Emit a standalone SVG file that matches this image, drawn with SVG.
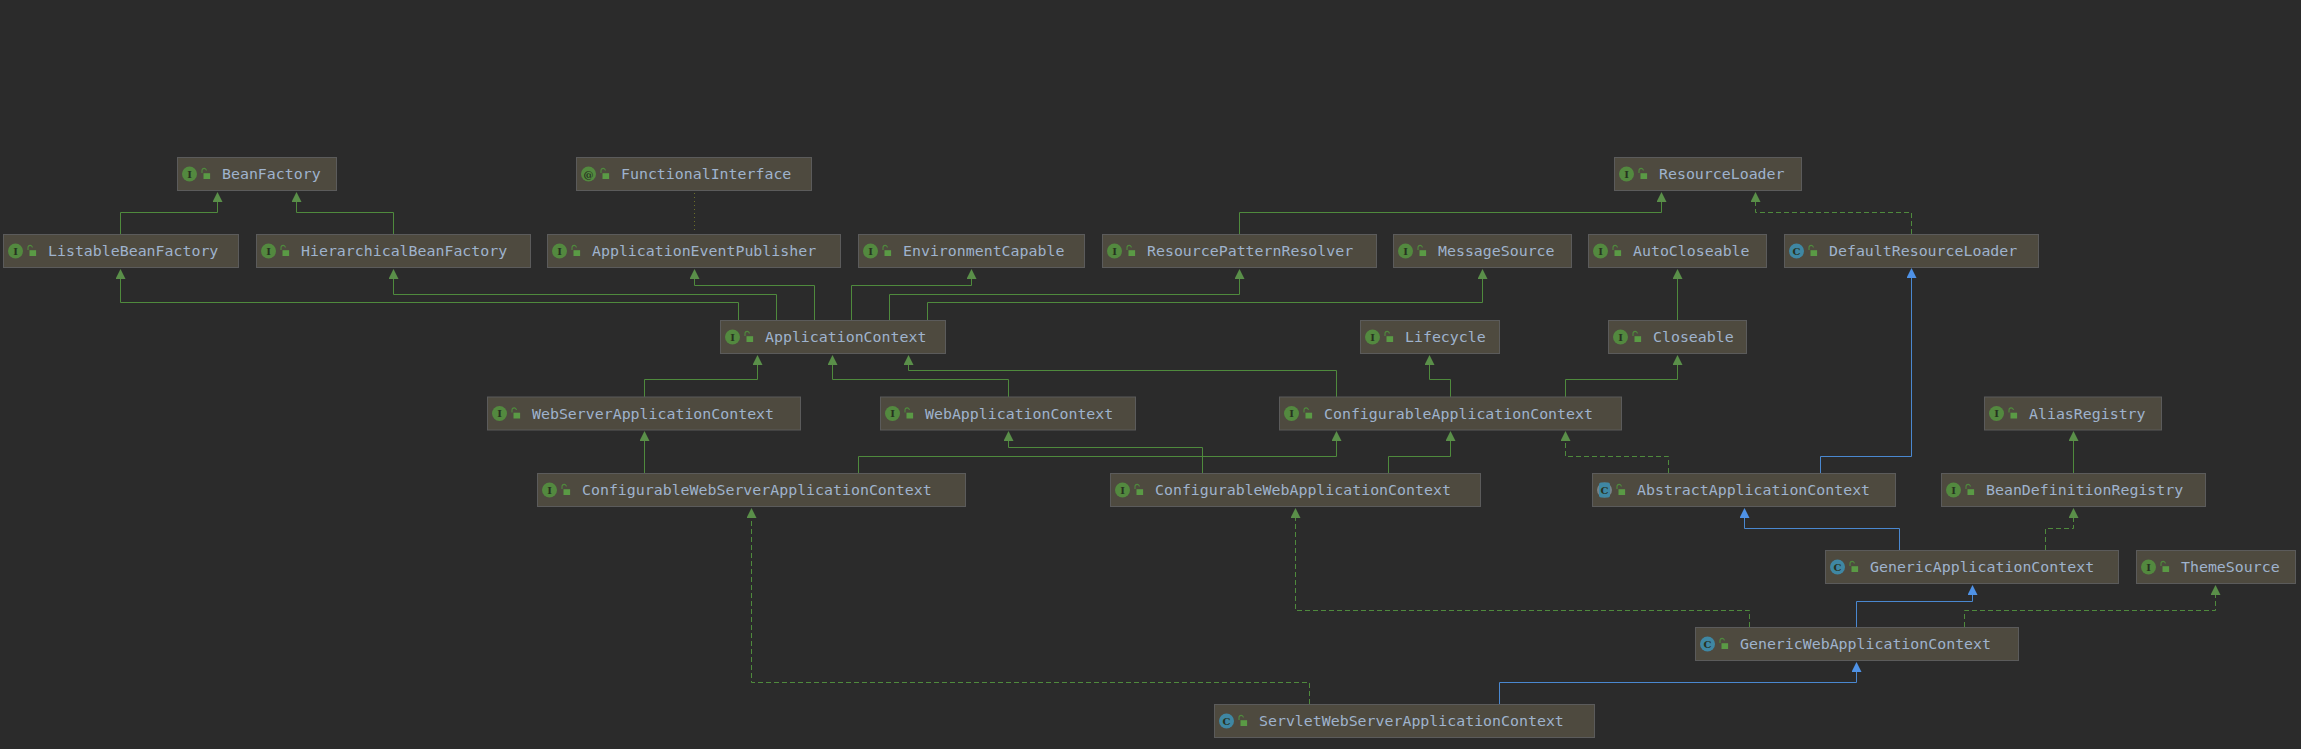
<svg xmlns="http://www.w3.org/2000/svg" width="2301" height="749" viewBox="0 0 2301 749">
<style>
.n{fill:#4e4a3f;stroke:#5b5b5b;stroke-width:1}
.t{font-family:"DejaVu Sans Mono","Liberation Mono",monospace;font-size:14.9px;fill:#9fb3cd}
.g{font-family:"DejaVu Serif","Liberation Serif",serif;font-size:10px;font-weight:bold;fill:#27321f;text-anchor:middle}
.e{fill:none;stroke:#4f8a3d;stroke-width:1}
.b{stroke:#4a88d0}
.d{stroke-dasharray:5 3}
.o{fill:none;stroke:#6b6f2a;stroke-width:1;stroke-dasharray:1 3}
</style>
<defs>
<marker id="ag" markerUnits="userSpaceOnUse" markerWidth="11" markerHeight="11" refX="0" refY="5" orient="auto"><path d="M0 0L10 5L0 10Z" fill="#5a8f49"/></marker>
<marker id="ab" markerUnits="userSpaceOnUse" markerWidth="11" markerHeight="11" refX="0" refY="5" orient="auto"><path d="M0 0L10 5L0 10Z" fill="#4f92e6"/></marker>
<g id="lock"><path d="M-3.5 -1V-3.4a2.2 2.2 0 0 1 4.4 0" fill="none" stroke="#4f8a3d" stroke-width="1.1"/><rect x="-2" y="-0.8" width="6.6" height="5.8" fill="#5a9a45"/></g>
<circle id="ci" r="7.5" fill="#53893f"/>
<circle id="cc" r="7.5" fill="#3f87a3"/>
<g id="ca"><circle r="7.5" fill="#77848a"/><rect x="-5.5" y="-7.5" width="11" height="15" rx="2" fill="#3f87a3"/></g>
</defs>
<rect width="2301" height="749" fill="#2b2b2b"/>
<g id="connectors">
<path class="e" marker-end="url(#ag)" d="M120.5 234V212.5H217.5V202"/>
<path class="e" marker-end="url(#ag)" d="M393.5 234V212.5H296.5V202"/>
<path class="o" d="M694.5 193V233"/>
<path class="e" marker-end="url(#ag)" d="M738.5 320V302.5H120.5V279"/>
<path class="e" marker-end="url(#ag)" d="M776.5 320V294.5H393.5V279"/>
<path class="e" marker-end="url(#ag)" d="M814.5 320V285.5H694.5V279"/>
<path class="e" marker-end="url(#ag)" d="M851.5 320V285.5H971.5V279"/>
<path class="e" marker-end="url(#ag)" d="M889.5 320V294.5H1239.5V279"/>
<path class="e" marker-end="url(#ag)" d="M927.5 320V302.5H1482.5V279"/>
<path class="e" marker-end="url(#ag)" d="M1239.5 234V212.5H1661.5V202"/>
<path class="e d" marker-end="url(#ag)" d="M1911.5 234V212.5H1755.5V202"/>
<path class="e" marker-end="url(#ag)" d="M1677.5 320V279"/>
<path class="e" marker-end="url(#ag)" d="M644.5 397V379.5H757.5V365"/>
<path class="e" marker-end="url(#ag)" d="M1008.5 397V379.5H832.5V365"/>
<path class="e" marker-end="url(#ag)" d="M1336.5 397V370.5H908.5V365"/>
<path class="e" marker-end="url(#ag)" d="M1450.5 397V379.5H1429.5V365"/>
<path class="e" marker-end="url(#ag)" d="M1565.5 397V379.5H1677.5V365"/>
<path class="e" marker-end="url(#ag)" d="M644.5 473V441"/>
<path class="e" marker-end="url(#ag)" d="M858.5 473V456.5H1336.5V441"/>
<path class="e" marker-end="url(#ag)" d="M1202.5 473V447.5H1008.5V441"/>
<path class="e" marker-end="url(#ag)" d="M1388.5 473V456.5H1450.5V441"/>
<path class="e d" marker-end="url(#ag)" d="M1668.5 473V456.5H1565.5V441"/>
<path class="e b" marker-end="url(#ab)" d="M1820.5 473V456.5H1911.5V278"/>
<path class="e" marker-end="url(#ag)" d="M2073.5 473V441"/>
<path class="e b" marker-end="url(#ab)" d="M1899.5 550V528.5H1744.5V518"/>
<path class="e d" marker-end="url(#ag)" d="M2045.5 550V528.5H2073.5V518"/>
<path class="e b" marker-end="url(#ab)" d="M1856.5 627V601.5H1972.5V595"/>
<path class="e d" marker-end="url(#ag)" d="M1964.5 627V610.5H2215.5V595"/>
<path class="e d" marker-end="url(#ag)" d="M1749.5 627V610.5H1295.5V518"/>
<path class="e d" marker-end="url(#ag)" d="M1309.5 704V682.5H751.5V518"/>
<path class="e b" marker-end="url(#ab)" d="M1499.5 704V682.5H1856.5V672"/>
</g>
<g id="BeanFactory" transform="translate(177.5 157.5)"><rect class="n" width="159" height="33"/><use href="#ci" x="12" y="16.5"/><text class="g" x="12" y="20">I</text><use href="#lock" x="28" y="16.5"/><text class="t" x="44.5" y="21.5">BeanFactory</text></g>
<g id="ListableBeanFactory" transform="translate(3.5 234.5)"><rect class="n" width="235" height="33"/><use href="#ci" x="12" y="16.5"/><text class="g" x="12" y="20">I</text><use href="#lock" x="28" y="16.5"/><text class="t" x="44.5" y="21.5">ListableBeanFactory</text></g>
<g id="HierarchicalBeanFactory" transform="translate(256.5 234.5)"><rect class="n" width="274" height="33"/><use href="#ci" x="12" y="16.5"/><text class="g" x="12" y="20">I</text><use href="#lock" x="28" y="16.5"/><text class="t" x="44.5" y="21.5">HierarchicalBeanFactory</text></g>
<g id="FunctionalInterface" transform="translate(576.5 157.5)"><rect class="n" width="235" height="33"/><use href="#ci" x="12" y="16.5"/><text class="g" x="12" y="20">@</text><use href="#lock" x="28" y="16.5"/><text class="t" x="44.5" y="21.5">FunctionalInterface</text></g>
<g id="ApplicationEventPublisher" transform="translate(547.5 234.5)"><rect class="n" width="293" height="33"/><use href="#ci" x="12" y="16.5"/><text class="g" x="12" y="20">I</text><use href="#lock" x="28" y="16.5"/><text class="t" x="44.5" y="21.5">ApplicationEventPublisher</text></g>
<g id="EnvironmentCapable" transform="translate(858.5 234.5)"><rect class="n" width="226" height="33"/><use href="#ci" x="12" y="16.5"/><text class="g" x="12" y="20">I</text><use href="#lock" x="28" y="16.5"/><text class="t" x="44.5" y="21.5">EnvironmentCapable</text></g>
<g id="ResourcePatternResolver" transform="translate(1102.5 234.5)"><rect class="n" width="274" height="33"/><use href="#ci" x="12" y="16.5"/><text class="g" x="12" y="20">I</text><use href="#lock" x="28" y="16.5"/><text class="t" x="44.5" y="21.5">ResourcePatternResolver</text></g>
<g id="MessageSource" transform="translate(1393.5 234.5)"><rect class="n" width="178" height="33"/><use href="#ci" x="12" y="16.5"/><text class="g" x="12" y="20">I</text><use href="#lock" x="28" y="16.5"/><text class="t" x="44.5" y="21.5">MessageSource</text></g>
<g id="AutoCloseable" transform="translate(1588.5 234.5)"><rect class="n" width="178" height="33"/><use href="#ci" x="12" y="16.5"/><text class="g" x="12" y="20">I</text><use href="#lock" x="28" y="16.5"/><text class="t" x="44.5" y="21.5">AutoCloseable</text></g>
<g id="ResourceLoader" transform="translate(1614.5 157.5)"><rect class="n" width="187" height="33"/><use href="#ci" x="12" y="16.5"/><text class="g" x="12" y="20">I</text><use href="#lock" x="28" y="16.5"/><text class="t" x="44.5" y="21.5">ResourceLoader</text></g>
<g id="DefaultResourceLoader" transform="translate(1784.5 234.5)"><rect class="n" width="254" height="33"/><use href="#cc" x="12" y="16.5"/><text class="g" x="12" y="20">C</text><use href="#lock" x="28" y="16.5"/><text class="t" x="44.5" y="21.5">DefaultResourceLoader</text></g>
<g id="ApplicationContext" transform="translate(720.5 320.5)"><rect class="n" width="225" height="33"/><use href="#ci" x="12" y="16.5"/><text class="g" x="12" y="20">I</text><use href="#lock" x="28" y="16.5"/><text class="t" x="44.5" y="21.5">ApplicationContext</text></g>
<g id="Lifecycle" transform="translate(1360.5 320.5)"><rect class="n" width="139" height="33"/><use href="#ci" x="12" y="16.5"/><text class="g" x="12" y="20">I</text><use href="#lock" x="28" y="16.5"/><text class="t" x="44.5" y="21.5">Lifecycle</text></g>
<g id="Closeable" transform="translate(1608.5 320.5)"><rect class="n" width="138" height="33"/><use href="#ci" x="12" y="16.5"/><text class="g" x="12" y="20">I</text><use href="#lock" x="28" y="16.5"/><text class="t" x="44.5" y="21.5">Closeable</text></g>
<g id="WebServerApplicationContext" transform="translate(487.5 397)"><rect class="n" width="313" height="33"/><use href="#ci" x="12" y="16.5"/><text class="g" x="12" y="20">I</text><use href="#lock" x="28" y="16.5"/><text class="t" x="44.5" y="21.5">WebServerApplicationContext</text></g>
<g id="WebApplicationContext" transform="translate(880.5 397)"><rect class="n" width="255" height="33"/><use href="#ci" x="12" y="16.5"/><text class="g" x="12" y="20">I</text><use href="#lock" x="28" y="16.5"/><text class="t" x="44.5" y="21.5">WebApplicationContext</text></g>
<g id="ConfigurableApplicationContext" transform="translate(1279.5 397)"><rect class="n" width="342" height="33"/><use href="#ci" x="12" y="16.5"/><text class="g" x="12" y="20">I</text><use href="#lock" x="28" y="16.5"/><text class="t" x="44.5" y="21.5">ConfigurableApplicationContext</text></g>
<g id="AliasRegistry" transform="translate(1984.5 397)"><rect class="n" width="177" height="33"/><use href="#ci" x="12" y="16.5"/><text class="g" x="12" y="20">I</text><use href="#lock" x="28" y="16.5"/><text class="t" x="44.5" y="21.5">AliasRegistry</text></g>
<g id="ConfigurableWebServerApplicationContext" transform="translate(537.5 473.5)"><rect class="n" width="428" height="33"/><use href="#ci" x="12" y="16.5"/><text class="g" x="12" y="20">I</text><use href="#lock" x="28" y="16.5"/><text class="t" x="44.5" y="21.5">ConfigurableWebServerApplicationContext</text></g>
<g id="ConfigurableWebApplicationContext" transform="translate(1110.5 473.5)"><rect class="n" width="370" height="33"/><use href="#ci" x="12" y="16.5"/><text class="g" x="12" y="20">I</text><use href="#lock" x="28" y="16.5"/><text class="t" x="44.5" y="21.5">ConfigurableWebApplicationContext</text></g>
<g id="AbstractApplicationContext" transform="translate(1592.5 473.5)"><rect class="n" width="303" height="33"/><use href="#ca" x="12" y="16.5"/><text class="g" x="12" y="20">C</text><use href="#lock" x="28" y="16.5"/><text class="t" x="44.5" y="21.5">AbstractApplicationContext</text></g>
<g id="BeanDefinitionRegistry" transform="translate(1941.5 473.5)"><rect class="n" width="264" height="33"/><use href="#ci" x="12" y="16.5"/><text class="g" x="12" y="20">I</text><use href="#lock" x="28" y="16.5"/><text class="t" x="44.5" y="21.5">BeanDefinitionRegistry</text></g>
<g id="GenericApplicationContext" transform="translate(1825.5 550.5)"><rect class="n" width="293" height="33"/><use href="#cc" x="12" y="16.5"/><text class="g" x="12" y="20">C</text><use href="#lock" x="28" y="16.5"/><text class="t" x="44.5" y="21.5">GenericApplicationContext</text></g>
<g id="ThemeSource" transform="translate(2136.5 550.5)"><rect class="n" width="159" height="33"/><use href="#ci" x="12" y="16.5"/><text class="g" x="12" y="20">I</text><use href="#lock" x="28" y="16.5"/><text class="t" x="44.5" y="21.5">ThemeSource</text></g>
<g id="GenericWebApplicationContext" transform="translate(1695.5 627.5)"><rect class="n" width="323" height="33"/><use href="#cc" x="12" y="16.5"/><text class="g" x="12" y="20">C</text><use href="#lock" x="28" y="16.5"/><text class="t" x="44.5" y="21.5">GenericWebApplicationContext</text></g>
<g id="ServletWebServerApplicationContext" transform="translate(1214.5 704.5)"><rect class="n" width="380" height="33"/><use href="#cc" x="12" y="16.5"/><text class="g" x="12" y="20">C</text><use href="#lock" x="28" y="16.5"/><text class="t" x="44.5" y="21.5">ServletWebServerApplicationContext</text></g>
</svg>
